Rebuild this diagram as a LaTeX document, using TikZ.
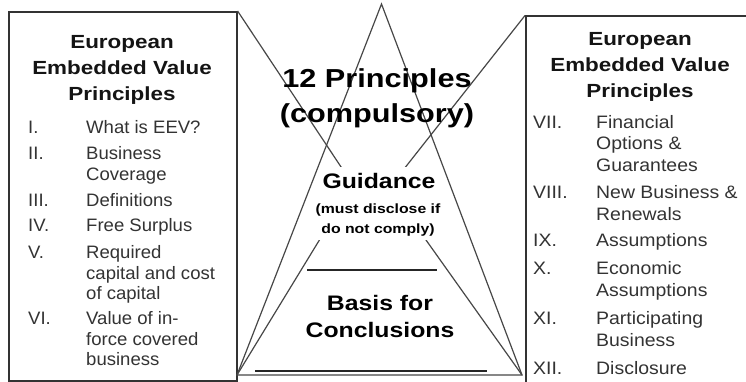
\documentclass[tikz,border=0pt]{standalone}
\usepackage{fontspec}
\setmainfont{Liberation Sans}
\newfontfamily\headfont[FakeStretch=1.18]{Liberation Sans}
\newfontfamily\listfont[FakeStretch=1.03]{Liberation Sans}
\newfontfamily\listfontwide[FakeStretch=1.08]{Liberation Sans}

% multi-line nodes sit on the baseline of their last line
\tikzset{
  frame/.style={draw=black!80, line width=1.6pt, inner sep=0pt},
  guide/.style={draw=black!72, line width=1.2pt},
  boxtitle/.style={font=\headfont\bfseries\fontsize{19}{26}\selectfont,
    align=center, inner sep=0pt, anchor=north, text=black!92},
  numeral/.style={font=\listfont\fontsize{18}{20.5}\selectfont,
    anchor=base west, inner sep=0pt, text=black!80},
  item/.style={numeral, align=left},
  itemwide/.style={item, font=\listfontwide\fontsize{18}{21.5}\selectfont},
  numwide/.style={numeral, font=\listfontwide\fontsize{18}{21.5}\selectfont},
  pyrbig/.style={font=\headfont\bfseries\fontsize{26}{35}\selectfont,
    align=center, inner sep=0pt, anchor=base, text=black},
  pyrmid/.style={font=\headfont\bfseries\fontsize{21}{27}\selectfont,
    align=center, inner sep=0pt, anchor=base, text=black},
  pyrsmall/.style={font=\headfont\bfseries\fontsize{13.4}{20}\selectfont,
    align=center, inner sep=0pt, anchor=base, text=black},
}

\begin{document}
\begin{tikzpicture}[x=1pt, y=-1pt]
  \useasboundingbox (0,0) rectangle (746,382);
  \clip (0,0) rectangle (746,382);
  \fill[white] (0,0) rectangle (746,382);

  % the two principle panels
  \node (lbox) [frame, minimum width=228pt, minimum height=369pt, anchor=north west] at (8,11) {};
  \node (rbox) [frame, minimum width=240pt, minimum height=390pt, anchor=north west] at (525,15.5) {};

  % pyramid corners and the points where the panel lines meet
  \coordinate (apex) at (381.5,4);
  \coordinate (bl) at (237,375);
  \coordinate (br) at (522,375);
  \coordinate (fl) at (353,185);
  \coordinate (fr) at (389,188);

  % lines from the panels into the pyramid
  \draw[guide] (lbox.north east) -- (fl);
  \draw[guide] (bl) -- (fl);
  \draw[guide] (rbox.north west) -- (fr);
  \draw[guide] (br) -- (fr);

  % white band behind the guidance text
  \node (gmask) [fill=white, inner sep=0pt, minimum width=146pt, minimum height=73pt] at (378,203.5) {};

  % pyramid outline
  \draw[guide] (bl) -- (apex) -- (br) -- cycle;
  \coordinate (sepl) at (307,270);
  \coordinate (sepr) at (437,270);
  \draw[draw=black!85, line width=1.4pt] (sepl) -- (sepr);
  \coordinate (basel) at (255,371);
  \coordinate (baser) at (487,371);
  \draw[draw=black!85, line width=1.6pt] (basel) -- (baser);

  % pyramid texts
  \node (ptitle) [pyrbig] at (377,123) {12 Principles\\(compulsory)};
  \node (guid) [pyrmid] at (379,188) {Guidance};
  \node (guidnote) [pyrsmall] at (378,233) {(must disclose if\\do not comply)};
  \node (basis) [pyrmid] at (380,337) {Basis for\\Conclusions};

  % left panel
  \node (ltitle) [boxtitle] at (122,35) {European\\Embedded Value\\Principles};
  \node (ln1) [numeral] at (28,133.5) {I.};
  \node (lt1) [item] at (86,133.5) {What is EEV?};
  \node (ln2) [numeral] at (28,159.5) {II.};
  \node (lt2) [item] at (86,180) {Business\\Coverage};
  \node (ln3) [numeral] at (28,206.5) {III.};
  \node (lt3) [item] at (86,206.5) {Definitions};
  \node (ln4) [numeral] at (28,231.5) {IV.};
  \node (lt4) [item] at (86,231.5) {Free Surplus};
  \node (ln5) [numeral] at (28,258.5) {V.};
  \node (lt5) [item] at (86,299.5) {Required\\capital and cost\\of capital};
  \node (ln6) [numeral] at (28,324.5) {VI.};
  \node (lt6) [item] at (86,365.5) {Value of in-\\force covered\\business};

  % right panel
  \node (rtitle) [boxtitle] at (640,32) {European\\Embedded Value\\Principles};
  \node (rn7) [numwide] at (533,128.5) {VII.};
  \node (rt7) [itemwide] at (596,171.5) {Financial\\Options \&\\Guarantees};
  \node (rn8) [numwide] at (533,198.5) {VIII.};
  \node (rt8) [itemwide] at (596,220) {New Business \&\\Renewals};
  \node (rn9) [numwide] at (533,246.5) {IX.};
  \node (rt9) [itemwide] at (596,246.5) {Assumptions};
  \node (rn10) [numwide] at (533,274.5) {X.};
  \node (rt10) [itemwide] at (596,296) {Economic\\Assumptions};
  \node (rn11) [numwide] at (533,324.5) {XI.};
  \node (rt11) [itemwide] at (596,346) {Participating\\Business};
  \node (rn12) [numwide] at (533,374.5) {XII.};
  \node (rt12) [itemwide] at (596,374.5) {Disclosure};
\end{tikzpicture}
\end{document}
